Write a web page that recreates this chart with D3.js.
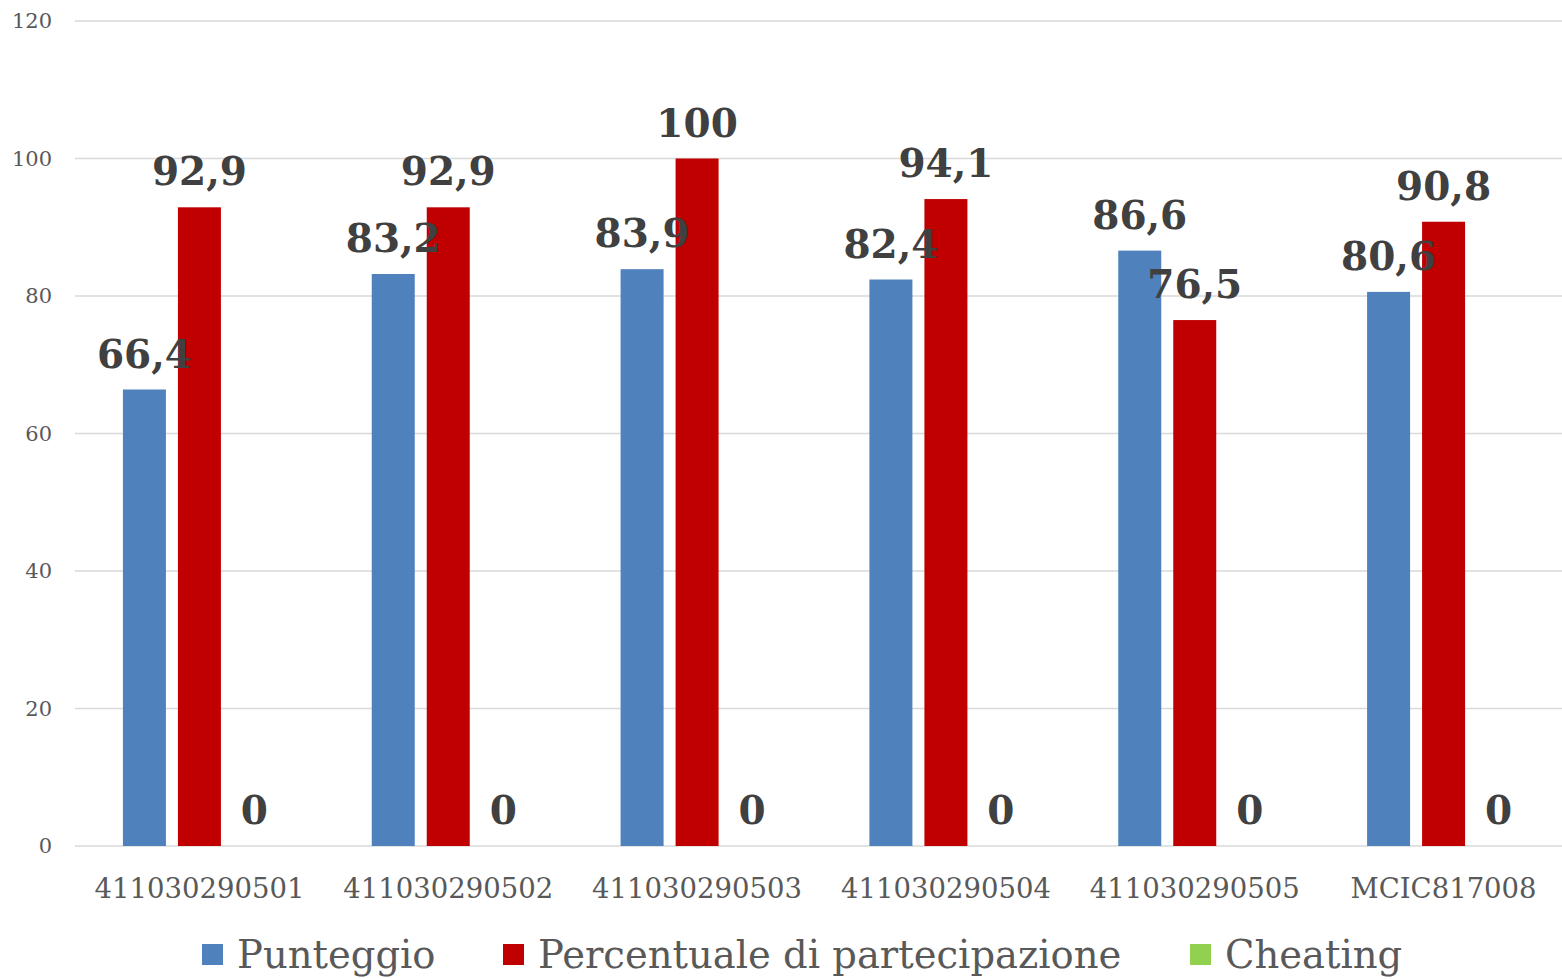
<!DOCTYPE html>
<html><head><meta charset="utf-8">
<script src="https://cdn.jsdelivr.net/npm/d3@7"></script>
<style>body{margin:0;background:#fff;}svg{display:block;}</style>
</head><body>
<script>
const categories = ["411030290501","411030290502","411030290503","411030290504","411030290505","MCIC817008"];
const seriesNames = ["Punteggio","Percentuale di partecipazione","Cheating"];
const punteggio = [66.4, 83.2, 83.9, 82.4, 86.6, 80.6];
const percentuale = [92.9, 92.9, 100, 94.1, 76.5, 90.8];
const cheating = [0, 0, 0, 0, 0, 0];
const yTicks = [0, 20, 40, 60, 80, 100, 120];
const colors = ["#4f81bd", "#c00000", "#92d050"];

const W = 1562, H = 979;
const FONT = "'DejaVu Serif', serif";
const svg = d3.select("body").append("svg").attr("width", W).attr("height", H);

const x0 = d3.scaleBand().domain(categories).range([75, 1568]);
const y = d3.scaleLinear().domain([0, 120]).range([846, 21]);
const barW = 43, gap = 12;
const series = [punteggio, percentuale, cheating];

// gridlines
svg.append("g").selectAll("line").data(yTicks).join("line")
  .attr("x1", 75).attr("x2", 1562)
  .attr("y1", d => y(d)).attr("y2", d => y(d))
  .attr("stroke", "#d9d9d9").attr("stroke-width", 1.5);

// y labels
svg.append("g").selectAll("text").data(yTicks).join("text")
  .attr("x", 52).attr("y", d => y(d)).attr("dy", "0.35em")
  .attr("text-anchor", "end").attr("font-family", FONT).attr("font-size", 21)
  .attr("fill", "#595959").text(d => d);

// x labels
svg.append("g").selectAll("text").data(categories).join("text")
  .attr("x", d => x0(d) + x0.bandwidth() / 2).attr("y", 888).attr("dy", "0.35em")
  .attr("text-anchor", "middle").attr("font-family", FONT).attr("font-size", 27.5)
  .attr("fill", "#595959").text(d => d);

const fmt = v => String(v).replace(".", ",");
const groupW = 3 * barW + 2 * gap;
const bx = (si, i) => x0(categories[i]) + x0.bandwidth() / 2 - groupW / 2 + si * (barW + gap);

const barsG = svg.append("g");
const labelsG = svg.append("g");
series.forEach((vals, si) => {
  barsG.append("g").selectAll("rect").data(vals).join("rect")
    .attr("x", (d, i) => bx(si, i)).attr("width", barW)
    .attr("y", d => y(d)).attr("height", d => y(0) - y(d))
    .attr("fill", colors[si]);
  labelsG.append("g").selectAll("text").data(vals).join("text")
    .attr("x", (d, i) => bx(si, i) + barW / 2).attr("y", d => y(d) - 22)
    .attr("text-anchor", "middle").attr("font-family", FONT).attr("font-weight", "bold")
    .attr("font-size", 39).attr("fill", "#404040").text(d => fmt(d));
});

// legend
const legendX = [202, 503, 1190];
const lg = svg.append("g");
seriesNames.forEach((name, i) => {
  lg.append("rect").attr("x", legendX[i]).attr("y", 944).attr("width", 21).attr("height", 21).attr("fill", colors[i]);
  lg.append("text").attr("x", legendX[i] + 35).attr("y", 955).attr("dy", "0.35em")
    .attr("font-family", FONT).attr("font-size", 38.5).attr("fill", "#595959").text(name);
});
</script>
</body></html>
